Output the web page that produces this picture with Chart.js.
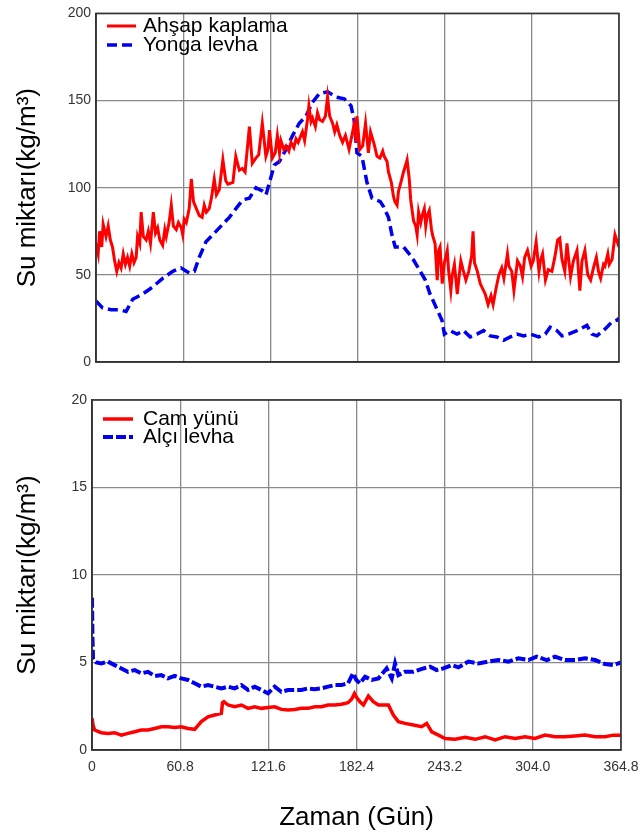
<!DOCTYPE html>
<html>
<head>
<meta charset="utf-8">
<script src="https://cdn.jsdelivr.net/npm/chart.js@4.4.1/dist/chart.umd.min.js"></script>
<style>
  body { margin: 0; background: #fff; }
  #wrap { position: relative; width: 640px; height: 839px; }
  canvas { position: absolute; left: 0; }
  #topChart { top: 0; }
  #bottomChart { top: 380px; }
</style>
</head>
<body>
<div id="wrap">
  <canvas id="topChart" width="640" height="380"></canvas>
  <canvas id="bottomChart" width="640" height="459"></canvas>
</div>
<script>
// x ticks (days) shared by both panels
const dayTicks = [0, 60.8, 121.6, 182.4, 243.2, 304.0, 364.8]
const topYTicks = [0, 50, 100, 150, 200]
const bottomYTicks = [0, 5, 10, 15, 20]

// top panel: [day, kg/m3]
const ahsapKaplama = [
  [0,68],[1.5,62],[2.5,75],[4,66],[5,79],[7,72],[8.5,78],[10,70],[11.5,66],[13,58],
  [14.5,52],[16,57],[17.5,54],[19,62],[20.5,56],[22,60],[23.5,55],[25,62],[26.5,57],[28,60],
  [29,72],[30.5,68],[31.5,86],[33,72],[35,70],[36.5,75],[38,68],[40,86],[41.5,74],[43,77],
  [44.5,70],[46.5,67],[48,76],[49,72],[51,80],[52.5,90],[54,78],[56,76],[57.5,80],[59.5,77],
  [60.5,73],[61.5,82],[63,80],[65,88],[66.5,105],[68,92],[70,88],[72,84],[74,83],[75.5,90],
  [77,86],[79,88],[80.5,94],[82.5,105],[84,96],[86,99],[88.5,116],[90.5,104],[92,102],[95.5,103],
  [97.5,118],[100,110],[102,111],[104,109],[107,135],[109,114],[111.5,117],[113.5,119],[116,137],[118.5,118],
  [120,122],[121,133],[123,117],[125,120],[126.5,130],[128,120],[129,127],[131,122],[132.5,124],[134.5,121],
  [136,126],[138,123],[139.5,128],[141,126],[144,132],[145.5,127],[147.5,139],[148.5,147],[150,138],[151,140],
  [153,135],[154.5,143],[156,139],[158,138],[160,141],[161.5,152],[163,141],[165,137],[166.5,132],[168,136],
  [170,130],[172,126],[174,130],[176.5,122],[178,128],[180,136],[181.5,127],[182,141],[184,122],[186,124],
  [188,137],[190,120],[191.5,132],[194,125],[196,118],[198,117],[200,121],[201,118],[203,115],[204,109],
  [206,103],[207.5,95],[208.5,92],[210,90],[211,98],[213,104],[214.5,109],[216,113],[217,116],[218.5,105],
  [219.5,93],[221.5,81],[223,78],[224,73],[225,86],[226.5,80],[227.5,84],[229,88],[230,78],[231,84],
  [232.5,87],[234,76],[235,72],[236.5,68],[238,47],[239,64],[240,66],[241.5,45],[243,57],[245,64],
  [246,52],[247.5,41],[248.5,50],[250,56],[252,39],[253,47],[254.5,58],[256,53],[258,47],[260,52],
  [262,61],[263,75],[264,57],[266,52],[268,45],[271.5,39],[273.5,33],[275.5,38],[277,33],[279,42],
  [281,50],[283,54],[284.5,48],[287,62],[288,55],[290,52],[291.5,41],[294,58],[296,55],[297.5,49],
  [299,60],[301,64],[303.5,55],[305,58],[307,69],[309,52],[310,58],[311.5,62],[313.5,47],[315.5,53],
  [318,52],[320,60],[322,70],[323.5,71],[325,59],[327,52],[328.5,68],[331,49],[333,58],[335.5,64],
  [337.5,41],[339,58],[341,64],[343,50],[345,47],[347,54],[349,60],[350.5,52],[352,48],[354,56],
  [355,55],[357,62],[358,56],[360,59],[362,73],[364.8,66]
]
const yongaLevha = [
  [0,35],[4.6,31],[10.5,30],[16.3,30],[21,29],[25.6,36],[32.5,39],[39.5,43],[46.5,48],[53.5,52],
  [59.3,54],[65,51],[68.6,52],[72,60],[76.7,69],[81.4,73],[88.4,79],[93,83],[97.6,88],[102.3,93],
  [107,94],[111.6,100],[116.3,98],[118.6,96],[121,103],[124.4,113],[127.9,115],[132.5,122],[137.2,130],[141.8,137],
  [146.5,141],[151,149],[155.8,154],[161.6,155],[167.4,152],[173.2,151],[177.9,147],[180,139],[182,120],[185.5,118],
  [189,103],[192.5,94],[198.3,92],[200.6,89],[204,83],[206.4,73],[208.7,66],[214.5,66],[220.4,60],[226.2,52],
  [229.7,47],[233,39],[238,30],[241.3,24],[243,16],[247,18],[251.8,16],[256.4,18],[261,14.4],[265.7,16],
  [270.3,18],[275,15],[279.6,14.4],[284.3,12.5],[289,14.4],[293.6,16],[298.3,15],[303,16],[308.7,14.4],[313.4,16],
  [316.8,20],[321.5,18],[325,15],[329.6,16],[335.5,18],[342.4,21],[346,16],[349.4,15],[355.2,19],[359.9,23],
  [363.4,24],[364.8,25]
]

// bottom panel: [day, kg/m3]
const camYunu = [
  [0,1.81],[0.8,1.4],[1.8,1.14],[6.4,0.99],[11,0.95],[15.6,0.99],[20.2,0.85],[24.8,0.95],[29.4,1.04],[34,1.14],
  [38.6,1.14],[43.2,1.23],[47.8,1.33],[52.4,1.33],[57,1.29],[61.6,1.33],[66.2,1.23],[70.8,1.18],[75.4,1.62],[80,1.9],
  [84.6,2.0],[89.2,2.09],[90,2.7],[91,2.76],[93.8,2.57],[98.4,2.47],[103,2.57],[107.6,2.38],[112.2,2.47],[116.8,2.38],
  [121.4,2.43],[126,2.47],[130.6,2.32],[135.2,2.28],[139.8,2.32],[144.4,2.38],[149,2.38],[153.6,2.47],[158.2,2.47],[162.8,2.57],
  [167.4,2.57],[172,2.62],[176.6,2.7],[179,2.9],[181,3.23],[182.5,3.0],[184.8,2.76],[187.2,2.57],[190.6,3.08],[194,2.76],
  [197.5,2.57],[201,2.57],[204.4,2.57],[207.8,2.0],[211.3,1.62],[215.9,1.52],[221.6,1.43],[227.4,1.33],[230.8,1.52],[234.3,1.04],
  [238.9,0.85],[243.5,0.66],[250.4,0.61],[257.3,0.72],[264.2,0.61],[271.1,0.76],[278,0.57],[284.9,0.76],[291.8,0.66],[298.6,0.76],
  [305.5,0.66],[312.4,0.85],[319.3,0.76],[326.2,0.76],[333.1,0.8],[340,0.85],[346.9,0.76],[353.8,0.76],[359.6,0.85],[364.8,0.85]
]
const alciLevha = [
  [0,8.7],[0.3,6.5],[0.7,5.2],[3,5.0],[6.4,4.95],[11,5.05],[15.6,4.85],[20.2,4.66],[24.8,4.47],[29.4,4.57],
  [34,4.38],[38.6,4.47],[43.2,4.23],[47.8,4.28],[52.4,4.09],[57,4.23],[61.6,4.09],[66.2,4.0],[70.8,3.81],[75.4,3.62],
  [80,3.71],[84.6,3.62],[89.2,3.52],[93.8,3.62],[98.4,3.52],[103,3.71],[107.6,3.43],[112.2,3.62],[116.8,3.43],[121.4,3.24],
  [126,3.62],[130.6,3.33],[135.2,3.43],[139.8,3.43],[144.4,3.43],[149,3.52],[153.6,3.47],[158.2,3.52],[162.8,3.62],[167.4,3.71],
  [172,3.71],[176.6,3.81],[180,4.38],[182.3,4.0],[184.8,3.81],[188.3,4.19],[192.9,4.0],[197.5,4.09],[203.2,4.66],[206.7,4.09],
  [209,4.95],[211.3,4.28],[215.9,4.47],[221.6,4.47],[228.5,4.66],[233.1,4.76],[237.7,4.57],[242.3,4.66],[248.1,4.85],[252.7,4.72],
  [259.6,5.05],[266.5,4.95],[273.4,5.05],[280.3,5.14],[287.2,5.05],[294.1,5.24],[301,5.14],[306.7,5.33],[313.6,5.14],[319.3,5.33],
  [326.2,5.14],[333.1,5.14],[340,5.24],[346.9,5.14],[353.8,4.91],[359.6,4.85],[364.8,5.0]
]

Chart.defaults.font.family = "'Liberation Sans', Arial, sans-serif"

const gridColor = '#8a8a8a'
const frameColor = '#333'

// box round the plot area
const framePlugin = {
  id: 'frame',
  afterDatasetsDraw(chart) {
    const a = chart.chartArea
    const ctx = chart.ctx
    ctx.save()
    ctx.strokeStyle = frameColor
    ctx.lineWidth = 1.6
    ctx.strokeRect(a.left, a.top, a.right - a.left, a.bottom - a.top)
    ctx.restore()
  }
}
// legend drawn inside the plot, top left
const boxLegend = {
  id: 'boxLegend',
  afterDraw(chart, args, opts) {
    const ctx = chart.ctx
    ctx.save()
    ctx.font = opts.font
    ctx.textBaseline = 'middle'
    chart.data.datasets.forEach((ds, i) => {
      const y = opts.rows[i]
      ctx.strokeStyle = ds.borderColor
      ctx.lineWidth = ds.borderWidth
      ctx.setLineDash(ds.borderDash || [])
      ctx.beginPath()
      ctx.moveTo(opts.x0, y)
      ctx.lineTo(opts.x1, y)
      ctx.stroke()
      ctx.setLineDash([])
      ctx.fillStyle = '#000'
      ctx.fillText(ds.label, opts.textX, y)
    })
    ctx.restore()
  }
}

function toPoints(arr) {
  return arr.map(p => ({x: p[0], y: p[1]}))
}

function makeChart(id, cfg) {
  return new Chart(document.getElementById(id), {
    type: 'line',
    data: {
      datasets: [{
        label: cfg.names[0],
        data: toPoints(cfg.series[0]),
        borderColor: '#ff0000',
        borderWidth: cfg.widths[0],
        pointRadius: 0,
        tension: 0
      }, {
        label: cfg.names[1],
        data: toPoints(cfg.series[1]),
        borderColor: '#0000ee',
        borderWidth: cfg.widths[1],
        borderDash: cfg.dash,
        pointRadius: 0,
        tension: 0
      }]
    },
    options: {
      responsive: false,
      animation: false,
      devicePixelRatio: 1,
      layout: {padding: cfg.padding},
      plugins: {
        legend: {display: false},
        tooltip: {enabled: false},
        boxLegend: cfg.legend
      },
      scales: {
        x: {
          type: 'linear',
          min: 0,
          max: 364.8,
          afterBuildTicks: s => { s.ticks = dayTicks.map(v => ({value: v})) },
          afterFit: s => {
            s.height = cfg.xHeight
            s.paddingLeft = 0
            s.paddingRight = 0
          },
          grid: {color: gridColor, lineWidth: 1.3, drawTicks: false},
          border: {color: frameColor, width: 1.6},
          ticks: {
            display: cfg.xLabels,
            padding: 9,
            color: '#333',
            font: {size: 14},
            maxRotation: 0,
            callback: v => v === 0 ? '0' : v.toFixed(1)
          },
          title: {
            display: cfg.xLabels,
            text: 'Zaman (Gün)',
            color: '#000',
            font: {size: 26},
            padding: {bottom: 6}
          }
        },
        y: {
          min: 0,
          max: cfg.yTicks[cfg.yTicks.length - 1],
          afterBuildTicks: s => { s.ticks = cfg.yTicks.map(v => ({value: v})) },
          afterFit: s => { s.width = cfg.yWidth },
          grid: {color: gridColor, lineWidth: 1.3, drawTicks: false},
          border: {color: frameColor, width: 1.6},
          ticks: {padding: 5, color: '#333', font: {size: 14}},
          title: {
            display: true,
            text: 'Su miktarı(kg/m³)',
            color: '#000',
            font: {size: 26},
            padding: {top: 12}
          }
        }
      }
    },
    plugins: [framePlugin, boxLegend]
  })
}

makeChart('topChart', {
  names: ['Ahşap kaplama', 'Yonga levha'],
  series: [ahsapKaplama, yongaLevha],
  widths: [3, 3.5],
  dash: [10, 5],
  padding: {left: 0, right: 21, top: 10, bottom: 18},
  xHeight: 0,
  xLabels: false,
  yWidth: 96,
  yTicks: topYTicks,
  legend: {x0: 107, x1: 136, textX: 143, rows: [26, 45], font: '21px "Liberation Sans", Arial, sans-serif'}
})

makeChart('bottomChart', {
  names: ['Cam yünü', 'Alçı levha'],
  series: [camYunu, alciLevha],
  widths: [3.5, 4],
  dash: [10, 3],
  padding: {left: 0, right: 19, top: 20, bottom: 0},
  xHeight: 89,
  xLabels: true,
  yWidth: 92,
  yTicks: bottomYTicks,
  legend: {x0: 103, x1: 133, textX: 143, rows: [39, 57], font: '21px "Liberation Sans", Arial, sans-serif'}
})
</script>
</body>
</html>
